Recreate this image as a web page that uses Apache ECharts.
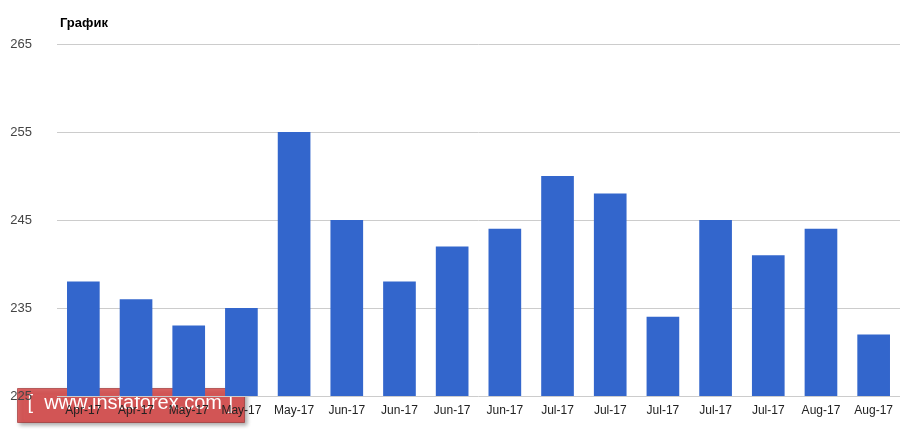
<!DOCTYPE html>
<html>
<head>
<meta charset="utf-8">
<script src="https://cdn.jsdelivr.net/npm/echarts@6/dist/echarts.min.js"></script>
<style>html,body{margin:0;padding:0;background:#fff}#chart{width:918px;height:439px}</style>
</head>
<body>
<div id="chart"></div>
<script>
var categories = ['Apr-17','Apr-17','May-17','May-17','May-17','Jun-17','Jun-17','Jun-17','Jun-17','Jul-17','Jul-17','Jul-17','Jul-17','Jul-17','Aug-17','Aug-17'];
var values = [238, 236, 233, 235, 255, 245, 238, 242, 244, 250, 248, 234, 245, 241, 244, 232];
var yTicks = [225, 235, 245, 255, 265];

var myChart = echarts.init(document.getElementById('chart'));

var option = {
    backgroundColor: '#ffffff',
    animation: false,
    title: {
        text: 'График',
        left: 55, top: 12,
        textStyle: {fontFamily: 'Arial', fontSize: 13, fontWeight: 'bold', color: '#000'}
    },
    grid: {left: 57, right: 18, top: 44, bottom: 43},
    xAxis: {
        type: 'category',
        data: categories,
        axisLine: {show: false},
        axisTick: {show: false},
        axisLabel: {color: '#222', fontFamily: 'Arial', fontSize: 12, margin: 9, interval: 0}
    },
    yAxis: {
        type: 'value',
        min: yTicks[0], max: yTicks[yTicks.length - 1], interval: 10,
        axisLine: {show: false},
        axisTick: {show: false},
        axisLabel: {color: '#444', fontFamily: 'Arial', fontSize: 13, margin: 25, verticalAlign: 'middle'},
        splitLine: {lineStyle: {color: '#cccccc'}}
    },
    series: [{
        type: 'bar',
        data: values,
        barWidth: '62%',
        itemStyle: {color: '#3366cc'}
    }],
    graphic: [{
        type: 'group', left: 17, top: 388,
        children: [
            {type: 'rect', shape: {x: 0, y: 0, width: 227, height: 34},
             style: {fill: 'rgba(220,60,60,0.78)', stroke: 'rgba(150,40,40,0.6)', lineWidth: 1,
                     shadowBlur: 4, shadowColor: 'rgba(0,0,0,0.4)', shadowOffsetX: 2, shadowOffsetY: 2}},
            {type: 'text', left: 10, top: 5,
             style: {text: '[  www.instaforex.com ]', fill: '#fff', font: '20px Arial'}}
        ]
    }]
};

myChart.setOption(option);
</script>
</body>
</html>
